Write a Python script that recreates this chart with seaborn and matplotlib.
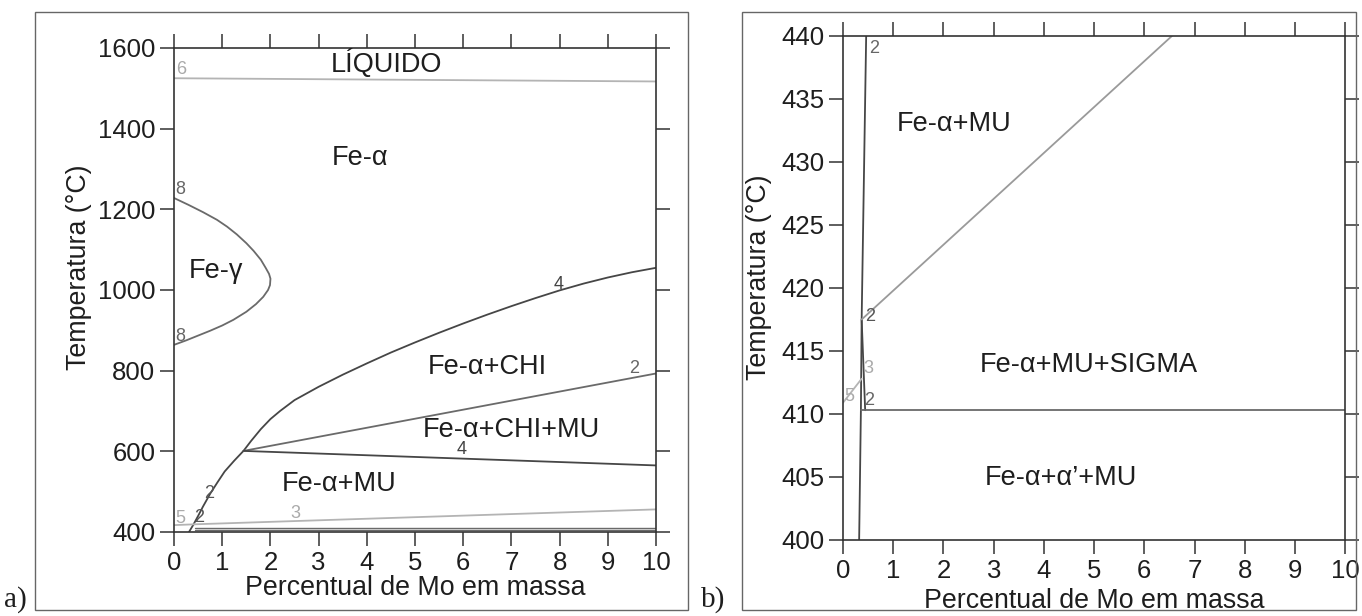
# ==========================================================
# Fe-Mo phase diagrams (a: 400-1600 C, b: 400-440 C)
# ==========================================================
import pandas as pd
import matplotlib.pyplot as plt
import seaborn as sns
from matplotlib.patches import Rectangle

# ---------------- data : panel a ----------------
liq_x = [0.0, 10.0]
liq_t = [1525, 1517]

gamma_x = [0.0, 0.3, 0.6, 0.89, 1.1, 1.3, 1.5, 1.65, 1.8, 1.9, 1.97, 2.0, 1.99, 1.95, 1.85, 1.7,
           1.5, 1.23, 1.0, 0.75, 0.5, 0.25, 0.0]
gamma_t = [1228, 1211, 1193, 1174, 1157, 1138, 1116, 1097, 1075, 1055, 1040, 1028, 1012, 1000, 983, 965,
           946, 926, 912, 899, 887, 875, 864]

chi_x = [0.31, 0.4, 0.5, 0.6, 0.75, 0.9, 1.05, 1.25, 1.44, 1.6, 1.8, 2.0, 2.2, 2.5, 3.0, 3.5, 4.0,
         4.5, 5.0, 5.5, 6.0, 6.5, 7.0, 7.5, 8.0, 8.5, 9.0, 9.5, 10.0]
chi_t = [400, 418, 440, 463, 495, 523, 550, 577, 601, 626, 655, 680, 700, 727, 760, 790, 818,
         845, 870, 894, 917, 939, 960, 980, 999, 1016, 1031, 1044, 1055]

mu2_x = [1.44, 10.0]
mu2_t = [601, 793]

mu4_x = [1.44, 10.0]
mu4_t = [601, 565]

l5_x = [0.0, 0.42]
l5_t = [417, 419]

l3_x = [0.42, 10.0]
l3_t = [419, 456]

low1_x = [0.44, 10.0]
low1_t = [411, 411]
low2_x = [0.44, 10.0]
low2_t = [405, 405]

# region names and small line numbers (x, T, text)
a_regions = [(4.4, 1562, "LÍQUIDO"), (3.85, 1328, "Fe-α"), (0.88, 1048, "Fe-γ"),
             (6.5, 810, "Fe-α+CHI"), (7.0, 654, "Fe-α+CHI+MU"), (3.43, 519, "Fe-α+MU")]
a_numbers = [(0.14, 1546, "6", "#aaaaaa"), (0.13, 1250, "8", "#666666"), (0.13, 885, "8", "#666666"),
             (7.97, 1014, "4", "#444444"), (9.54, 805, "2", "#666666"), (5.96, 604, "4", "#444444"),
             (0.72, 496, "2", "#555555"), (2.52, 446, "3", "#aaaaaa"), (0.14, 433, "5", "#aaaaaa"),
             (0.52, 437, "2", "#555555")]

# ---------------- data : panel b ----------------
vert_x = [0.32, 0.355, 0.37, 0.46]
vert_t = [400, 410.3, 417.5, 440]

vert2_x = [0.37, 0.44]
vert2_t = [417.5, 410.3]

b5_x = [0.0, 0.37]
b5_t = [410.9, 412.8]

sig_x = [0.37, 6.55]
sig_t = [417.5, 440]

hor_x = [0.36, 10.0]
hor_t = [410.3, 410.3]

b_regions = [(2.21, 433.0, "Fe-α+MU"), (4.89, 413.9, "Fe-α+MU+SIGMA"), (4.33, 404.9, "Fe-α+α’+MU")]
b_numbers = [(0.61, 439.0, "2", "#666666"), (0.54, 417.7, "2", "#555555"), (0.50, 413.6, "3", "#aaaaaa"),
             (0.13, 411.4, "5", "#aaaaaa"), (0.52, 411.1, "2", "#666666")]

# ==========================================================
# STYLE
# ==========================================================
sns.set_theme(style="ticks")
plt.rcParams['font.family'] = ['Liberation Sans', 'DejaVu Sans']

DARK = "#464646"
MID = "#6a6a6a"
LIGHT = "#b4b4b4"
TXT = "#1e1e1e"


def draw(ax, xs, ts, color, lw=1.3):
    d = pd.DataFrame({'x': xs, 't': ts})
    sns.lineplot(data=d, x='x', y='t', ax=ax, color=color, lw=lw, sort=False, estimator=None)


def style_axes(ax, yticks):
    ax.set_xlim(0, 10)
    ax.set_xticks(range(0, 11))
    ax.set_yticks(yticks)
    ax.tick_params(direction='out', length=10, width=1.1, colors="#333333", labelcolor=TXT,
                   labelsize=18.5, top=True, right=True, labeltop=False, labelright=False)
    for s in ax.spines.values():
        s.set_color("#333333")
        s.set_linewidth(1.2)
    ax.set_xlabel("Percentual de Mo em massa", fontsize=19.3, color=TXT)
    ax.set_ylabel("Temperatura (°C)", fontsize=19.3, color=TXT)


fig = plt.figure(figsize=(13.62, 6.16), dpi=100)

# frames around each panel
fig.patches.append(Rectangle((0.0257, 0.0097), 0.4794, 0.9708, transform=fig.transFigure,
                             fill=False, ec="#666666", lw=1.0))
fig.patches.append(Rectangle((0.5448, 0.0097), 0.4508, 0.9708, transform=fig.transFigure,
                             fill=False, ec="#666666", lw=1.0))

# ---------------- panel a ----------------
ax1 = fig.add_axes([0.1278, 0.1364, 0.3539, 0.7857])
draw(ax1, liq_x, liq_t, LIGHT)
draw(ax1, gamma_x, gamma_t, MID)
draw(ax1, chi_x, chi_t, DARK)
draw(ax1, mu2_x, mu2_t, MID)
draw(ax1, mu4_x, mu4_t, DARK)
draw(ax1, l5_x, l5_t, LIGHT)
draw(ax1, l3_x, l3_t, LIGHT)
draw(ax1, low1_x, low1_t, MID, 1.0)
draw(ax1, low2_x, low2_t, MID, 1.0)
ax1.set_ylim(400, 1600)
style_axes(ax1, range(400, 1601, 200))
ax1.xaxis.labelpad = 0.5
ax1.yaxis.set_label_coords(-0.170, 0.547)
for x, t, s in a_regions:
    ax1.text(x, t, s, fontsize=19.5, color=TXT, ha='center', va='center')
for x, t, s, c in a_numbers:
    ax1.text(x, t, s, fontsize=13, color=c, ha='center', va='center')

# ---------------- panel b ----------------
ax2 = fig.add_axes([0.619, 0.1234, 0.3686, 0.8182])
draw(ax2, vert_x, vert_t, DARK)
draw(ax2, vert2_x, vert2_t, DARK)
draw(ax2, b5_x, b5_t, LIGHT)
draw(ax2, sig_x, sig_t, "#9a9a9a")
draw(ax2, hor_x, hor_t, MID)
ax2.set_ylim(400, 440)
style_axes(ax2, range(400, 441, 5))
ax2.xaxis.labelpad = 4
ax2.yaxis.set_label_coords(-0.141, 0.522)
for x, t, s in b_regions:
    ax2.text(x, t, s, fontsize=19.5, color=TXT, ha='center', va='center')
for x, t, s, c in b_numbers:
    ax2.text(x, t, s, fontsize=13, color=c, ha='center', va='center')

# panel letters
fig.text(0.003, 0.026, "a)", fontsize=21, family='Liberation Serif', color=TXT, ha='left', va='center')
fig.text(0.515, 0.026, "b)", fontsize=21, family='Liberation Serif', color=TXT, ha='left', va='center')

plt.savefig("out.png", dpi=100)
